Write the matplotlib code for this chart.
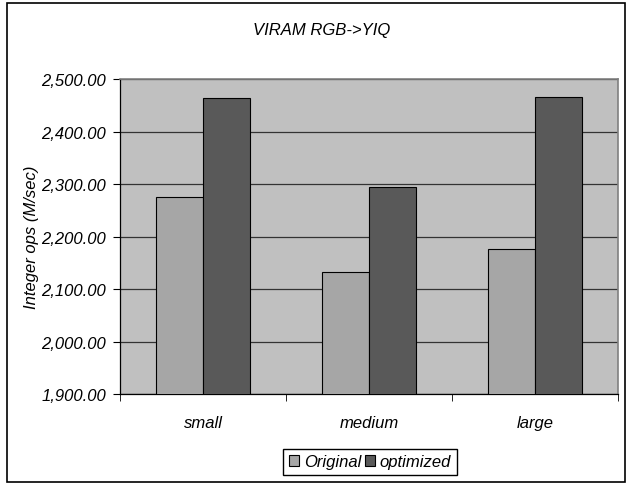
import matplotlib
matplotlib.use("Agg")
import matplotlib.pyplot as plt
from matplotlib.patches import Rectangle
from matplotlib.ticker import FuncFormatter, FixedLocator

# throughput of the RGB->YIQ kernel on VIRAM
categories = ["small", "medium", "large"]
original = [2276, 2132, 2176]
optimized = [2464, 2295, 2466]
series_names = ["Original", "optimized"]

plt.rcParams["font.family"] = ["Liberation Sans", "DejaVu Sans"]
plt.rcParams["font.style"] = "italic"

fig = plt.figure(figsize=(6.27, 4.85), dpi=100)
ax = fig.add_axes([120 / 627, 90 / 485, 498 / 627, 315 / 485])
ax.set_facecolor("#c0c0c0")

w = 0.285
xs = range(len(categories))
b1 = ax.bar([x - w / 2 for x in xs], original, w, color="#a6a6a6",
            edgecolor="black", linewidth=0.8, zorder=3)
b2 = ax.bar([x + w / 2 for x in xs], optimized, w, color="#595959",
            edgecolor="black", linewidth=0.8, zorder=3)

ax.set_xlim(-0.5, len(categories) - 0.5)
ax.set_ylim(1900, 2500)
ax.set_yticks(range(1900, 2501, 100))
ax.yaxis.set_major_formatter(FuncFormatter(lambda v, p: "{:,.2f}".format(v)))
ax.grid(axis="y", color="#333333", linewidth=0.9, zorder=1)

ax.set_xticks(list(xs))
ax.set_xticklabels(categories, fontsize=12)
ax.tick_params(axis="x", which="major", length=0, pad=15)
ax.xaxis.set_minor_locator(FixedLocator([-0.5, 0.5, 1.5, 2.5]))
ax.tick_params(axis="x", which="minor", length=5, direction="out", color="black")
ax.tick_params(axis="y", length=5, direction="out", labelsize=12, pad=5)

for side in ["top", "right"]:
    ax.spines[side].set_color("#808080")
    ax.spines[side].set_linewidth(1.2)
for side in ["left", "bottom"]:
    ax.spines[side].set_color("black")
    ax.spines[side].set_linewidth(0.9)

ax.set_ylabel("Integer ops (M/sec)", fontsize=12, labelpad=2)
fig.text(322 / 627, 1 - 31 / 485, "VIRAM RGB->YIQ", ha="center", va="center", fontsize=12)

fig.legend([b1, b2], series_names, loc="center", ncol=2,
           bbox_to_anchor=(370 / 627, 1 - 463 / 485), fontsize=12,
           frameon=True, fancybox=False, edgecolor="black", framealpha=1,
           handlelength=0.6, handleheight=0.6, handletextpad=0.3,
           columnspacing=0.2, borderpad=0.35, borderaxespad=0)

# outer chart border
fig.patches.append(Rectangle((7 / 627, 2 / 485), 618 / 627, 479 / 485,
                             transform=fig.transFigure, fill=False,
                             edgecolor="black", linewidth=1.2))

fig.savefig("out.png", dpi=100)
